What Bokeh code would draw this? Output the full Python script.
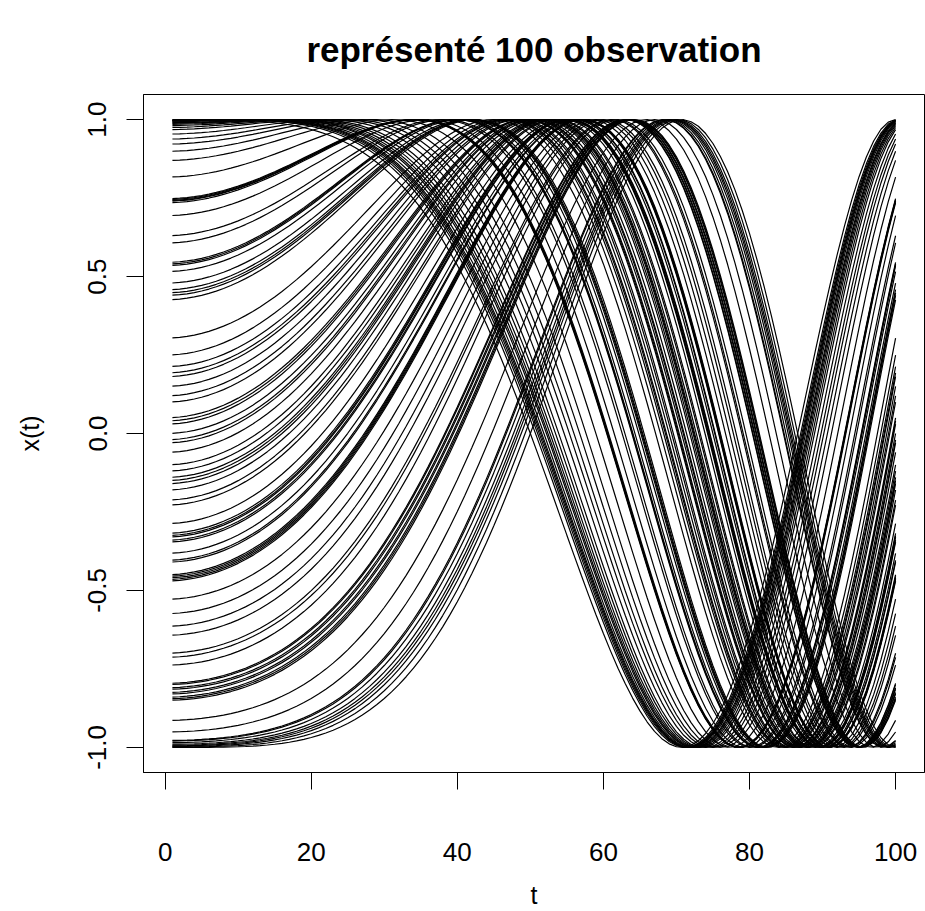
import numpy as np
from bokeh.plotting import figure
from bokeh.models import FixedTicker, CustomJSTickFormatter
from bokeh.embed import file_html
from bokeh.resources import INLINE

# time grid (observations t = 1..100)
t_values = list(range(1, 101))

start_values = [
    1.0, 0.999, 0.998, 0.997, 0.996, 0.995, 0.993, 0.99, 0.988, 0.985,
    0.981, 0.975, 0.968, 0.954, 0.938, 0.922, 0.899, 0.870, 0.817,
    0.748, 0.745, 0.742, 0.740, 0.735,
    0.694, 0.630, 0.607,
    0.545, 0.540, 0.535, 0.516, 0.479, 0.458, 0.448, 0.440, 0.426,
    0.304, 0.250, 0.213, 0.193, 0.181,
    0.150, 0.120, 0.100, 0.050, 0.040, 0.030, 0.000, -0.020, -0.030, -0.060,
    -0.100, -0.120, -0.140, -0.150, -0.160, -0.180,
    -0.212, -0.228, -0.287, -0.318, -0.325, -0.330, -0.340, -0.346, -0.382, -0.404, -0.410,
    -0.450, -0.455, -0.460, -0.465, -0.470, -0.528, -0.574, -0.614, -0.643, -0.700, -0.713, -0.738,
    -0.796, -0.800, -0.810, -0.815, -0.825, -0.830, -0.840, -0.845, -0.850,
    -0.914, -0.951, -0.978, -0.980, -0.985, -0.990, -0.993, -0.995, -0.997, -0.999, -1.0,
]

x_ticks = [0, 20, 40, 60, 80, 100]
y_ticks = [-1.0, -0.5, 0.0, 0.5, 1.0]

title_text = "représenté 100 observation"

# each curve: x(t) = cos(2*pi*(t/100)^2 + phi), phi chosen from its starting value (rising start)
t_arr = np.array(t_values, dtype=float)
xs, ys = [], []
for v in start_values:
    phi = 2 * np.pi - np.arccos(np.clip(v, -1, 1))
    xs.append(t_values)
    ys.append(list(np.cos(2 * np.pi * (t_arr / 100.0) ** 2 + phi)))

p = figure(
    width=925, height=911,
    output_backend="svg", toolbar_location=None,
    x_range=(-2.96, 103.96), y_range=(-1.08, 1.08),
    min_border_left=143, min_border_right=1, min_border_top=94, min_border_bottom=139,
    title=title_text,
)
p.multi_line(xs=xs, ys=ys, line_color="black", line_width=1.2)

font = "Liberation Sans"
p.title.text_font = font
p.title.text_font_size = "35px"
p.title.text_font_style = "bold"
p.title.align = "center"
p.title.standoff = 52
p.title.text_color = "black"

p.grid.visible = False
p.outline_line_color = "black"
p.outline_line_width = 1
p.outline_line_alpha = 1
p.background_fill_color = "white"
p.border_fill_color = "white"

for ax in (p.xaxis[0], p.yaxis[0]):
    ax.axis_line_color = "black"
    ax.major_tick_line_color = "black"
    ax.major_tick_out = 17
    ax.major_tick_in = 0
    ax.minor_tick_line_color = None
    ax.major_label_text_font = font
    ax.major_label_text_font_size = "26px"
    ax.major_label_text_color = "black"
    ax.axis_label_text_font = font
    ax.axis_label_text_font_size = "25px"
    ax.axis_label_text_font_style = "normal"
    ax.axis_label_text_color = "black"

p.xaxis.ticker = FixedTicker(ticks=x_ticks)
p.yaxis.ticker = FixedTicker(ticks=y_ticks)
p.yaxis.formatter = CustomJSTickFormatter(code="return tick.toFixed(1);")
p.yaxis.major_label_orientation = "vertical"
p.xaxis.axis_label = "t"
p.yaxis.axis_label = "x(t)"
p.xaxis.major_label_standoff = 53
p.yaxis.major_label_standoff = 20
p.xaxis.axis_label_standoff = 17
p.yaxis.axis_label_standoff = 42

open("out.html", "w").write(file_html(p, INLINE))
